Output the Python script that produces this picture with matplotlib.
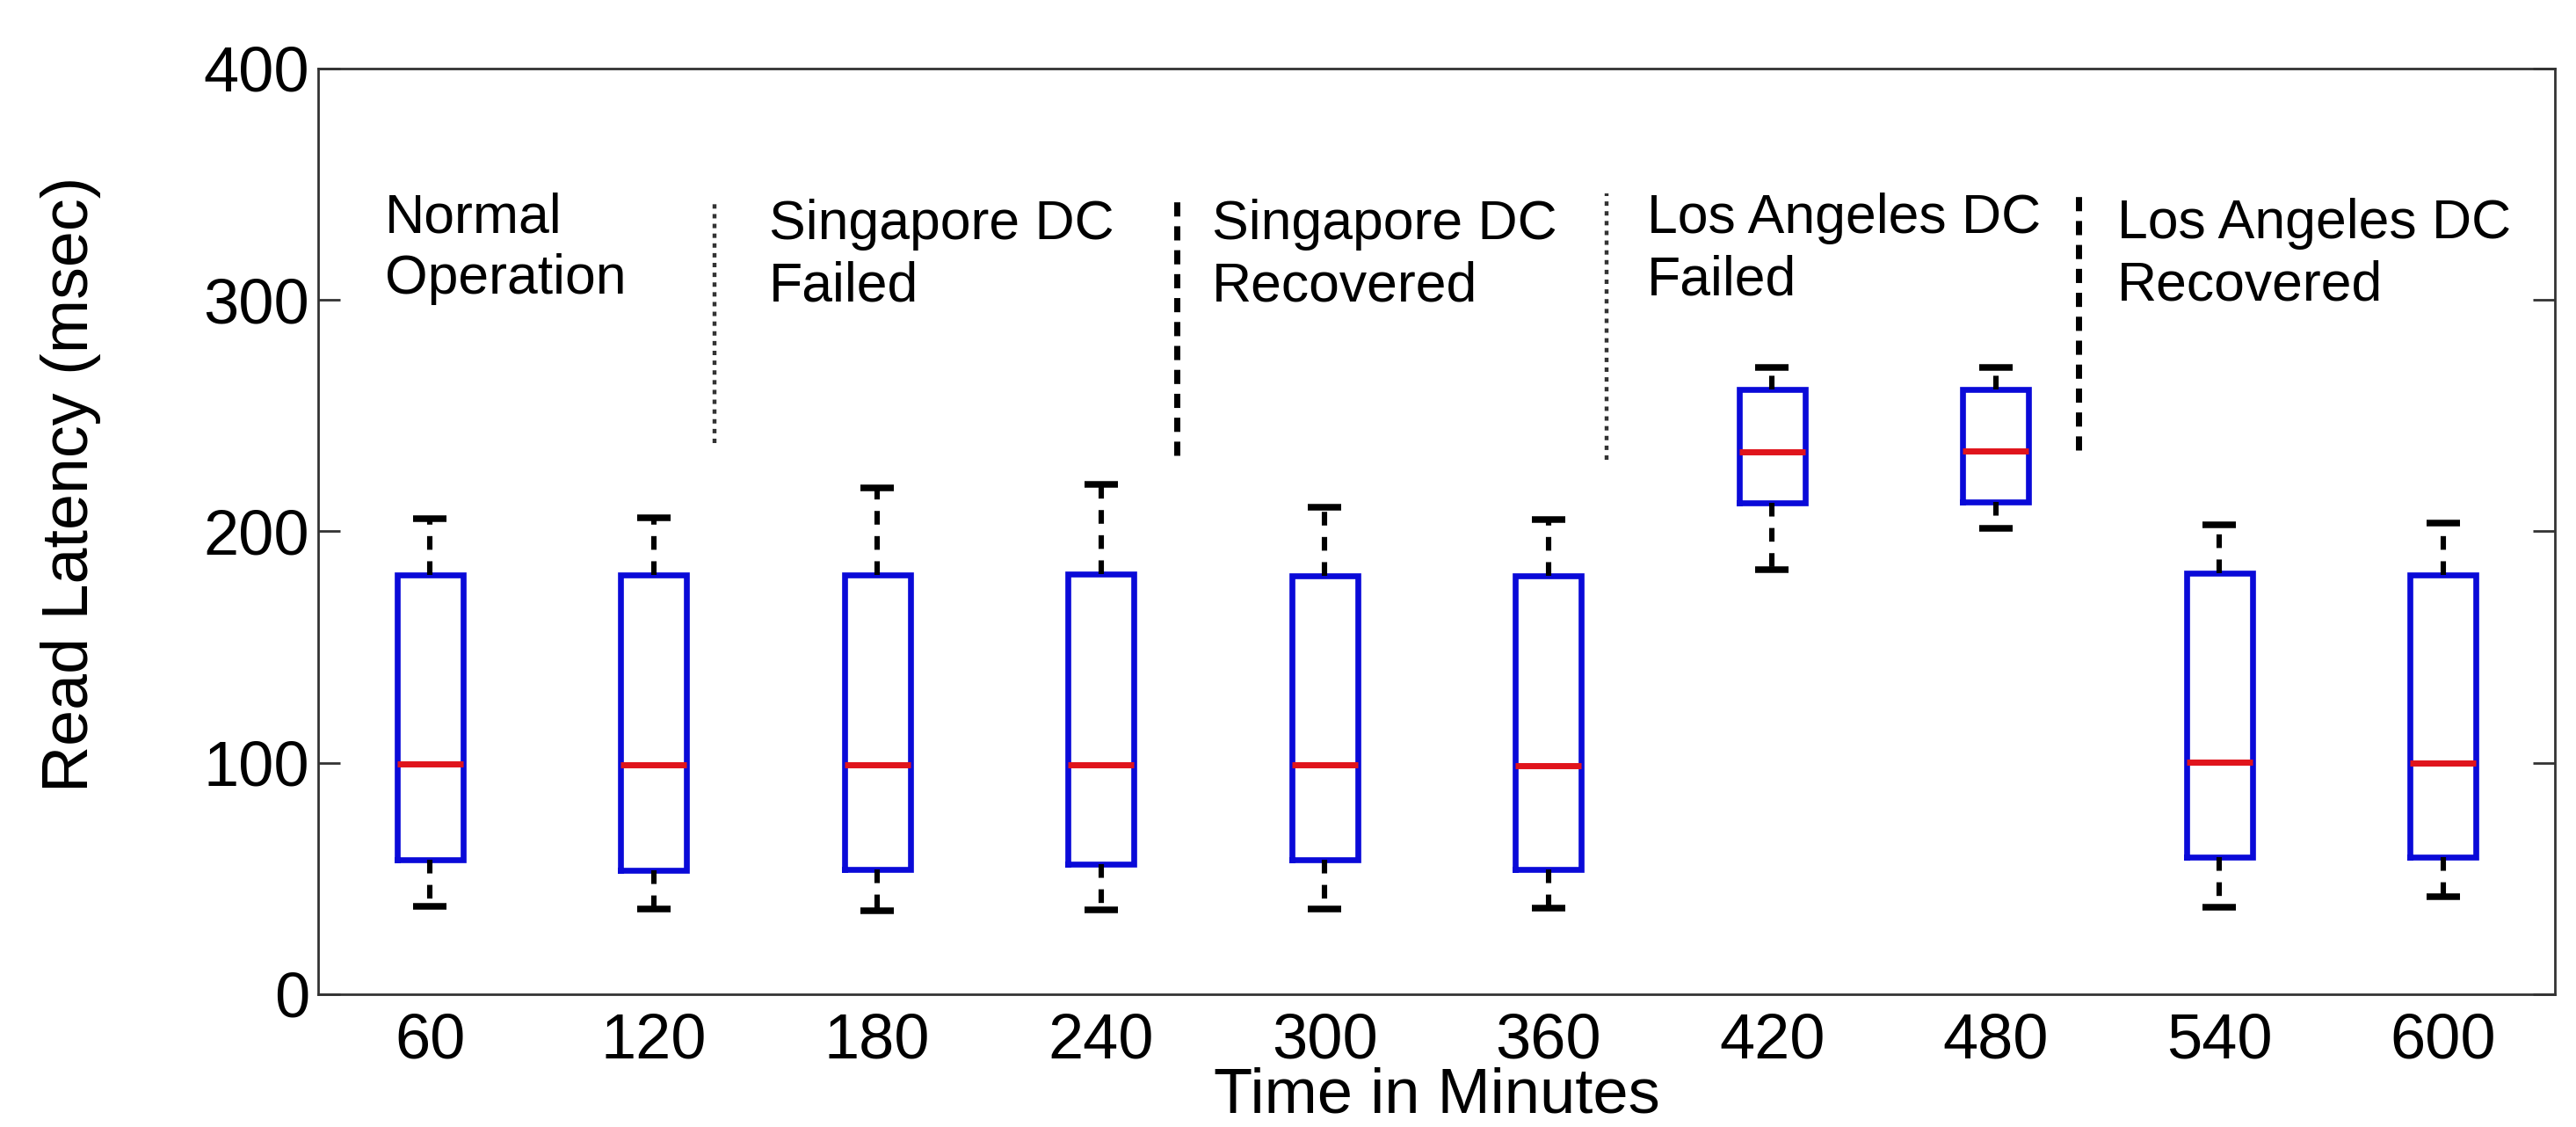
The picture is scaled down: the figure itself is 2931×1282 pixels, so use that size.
import matplotlib
matplotlib.use("Agg")
import matplotlib.pyplot as plt

# ---- data ----
times = [60, 120, 180, 240, 300, 360, 420, 480, 540, 600]
whisker_high = [205.5, 206.0, 218.8, 220.3, 210.6, 205.0, 270.8, 270.8, 202.8, 203.6]
q3_values = [181.2, 181.0, 181.0, 181.5, 180.9, 180.9, 261.2, 261.2, 182.0, 181.0]
median_values = [99.6, 99.0, 99.0, 99.2, 99.2, 98.6, 234.2, 234.6, 100.4, 99.8]
q1_values = [58.0, 53.6, 54.0, 56.3, 58.0, 53.8, 212.2, 212.8, 59.4, 59.4]
whisker_low = [38.0, 37.0, 36.0, 36.5, 36.8, 37.3, 183.3, 201.3, 37.6, 42.0]

phase_lines = [["Normal", "Operation"],
               ["Singapore DC", "Failed"],
               ["Singapore DC", "Recovered"],
               ["Los Angeles DC", "Failed"],
               ["Los Angeles DC", "Recovered"]]
phase_x = [0.80, 2.517, 4.497, 6.44, 8.543]
phase_baseline = [329.3, 326.2, 326.2, 328.9, 326.6]

sep_x = [2.272, 4.34, 6.26, 8.37]
sep_low = [238, 233, 231, 235]
sep_high = [343, 343, 346, 345]
sep_dotted = [True, False, True, False]

y_ticks = [0, 100, 200, 300, 400]

# ---- style ----
plt.rcParams['font.family'] = ['Liberation Sans', 'DejaVu Sans']
plt.rcParams['lines.scale_dashes'] = False
BLUE = '#0a0ad8'
RED = '#e0141c'

fig = plt.figure(figsize=(14.655, 6.41), dpi=200)
ax = fig.add_axes([0.1235, 0.1178, 0.8683, 0.8214])

positions = list(range(1, len(times) + 1))
stats = []
for t, hi, q3, med, q1, lo in zip(times, whisker_high, q3_values,
                                  median_values, q1_values, whisker_low):
    stats.append(dict(med=med, q1=q1, q3=q3, whislo=lo, whishi=hi,
                      fliers=[], label=str(t)))

ax.bxp(stats, positions=positions, widths=0.295, capwidths=0.15,
       showfliers=False,
       boxprops=dict(color=BLUE, linewidth=2.4, solid_joinstyle='miter'),
       medianprops=dict(color=RED, linewidth=2.5, solid_capstyle='butt'),
       whiskerprops=dict(color='black', linewidth=2.2,
                         linestyle=(0, (5.6, 4.7))),
       capprops=dict(color='black', linewidth=2.7, solid_capstyle='butt'))

for x, y0, y1, dotted in zip(sep_x, sep_low, sep_high, sep_dotted):
    if dotted:
        ax.plot([x, x], [y0, y1], color='#333333', linewidth=1.6,
                linestyle=(0, (1.8, 2.2)))
    else:
        ax.plot([x, x], [y0, y1], color='black', linewidth=2.5,
                linestyle=(0, (5.8, 4.0)))

line_gap = 26.6
for lines, x, yb in zip(phase_lines, phase_x, phase_baseline):
    for i, txt in enumerate(lines):
        ax.text(x, yb - i * line_gap, txt, ha='left', va='baseline',
                fontsize=22.5, color='black')

ax.set_xlim(0.5, 10.5)
ax.set_ylim(0, 400)
ax.set_yticks(y_ticks)
ax.set_yticklabels([str(v) for v in y_ticks])
ax.set_xticks(positions)
ax.set_xticklabels([str(t) for t in times])

ax.tick_params(axis='y', direction='in', length=9, width=1.0,
               left=True, right=True, labelsize=26, pad=3.6, color='#333333')
ax.tick_params(axis='x', length=0, labelsize=26, pad=7.5)
for s in ax.spines.values():
    s.set_linewidth(1.0)
    s.set_color('#333333')

fig.text(1634.5 / 2931, 1 - 1266 / 1282, 'Time in Minutes', ha='center',
         va='baseline', fontsize=26)
fig.text(0.0273, 0.570, 'Read Latency (msec)', rotation=90, ha='center',
         va='center', fontsize=26.5)

fig.savefig('out.png', dpi=200, facecolor='white')
